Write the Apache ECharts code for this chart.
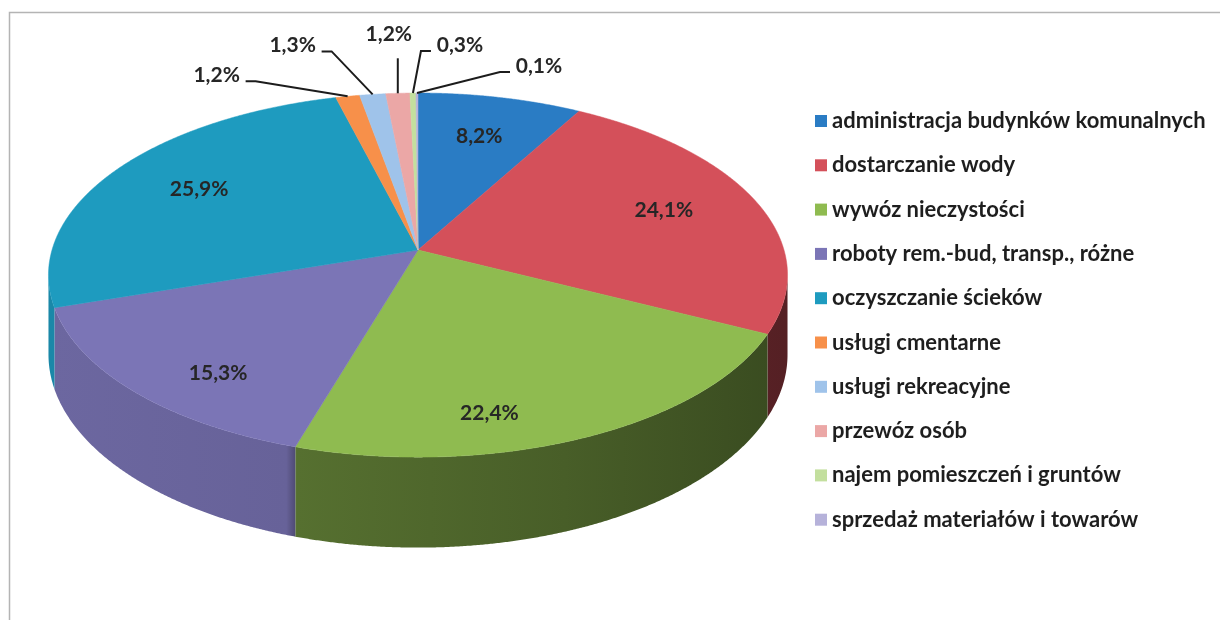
<!DOCTYPE html>
<html><head><meta charset="utf-8">
<script src="https://cdn.jsdelivr.net/npm/echarts@6/dist/echarts.min.js"></script>
<style>html,body{margin:0;padding:0;background:#fff}#c{width:1220px;height:620px}</style>
</head><body><div id="c"></div>
<script>
const categories = ['administracja budynków komunalnych','dostarczanie wody','wywóz nieczystości','roboty rem.-bud, transp., różne','oczyszczanie ścieków','usługi cmentarne','usługi rekreacyjne','przewóz osób','najem pomieszczeń i gruntów','sprzedaż materiałów i towarów'];
const values = [8.2, 24.1, 22.4, 15.3, 25.9, 1.2, 1.3, 1.2, 0.3, 0.1];
const palette = ['#2a7cc4','#d4505a','#8fbb50','#7b75b6','#1e9bbf','#f7904a','#9fc3ea','#eba7a6','#c3df9e','#b6b2da'];
// text-centre offsets of the outside labels, relative to the slice's rim anchor
const outsideLabelOffsets = {5:[-131,-21], 6:[-80,-49], 7:[-9,-59], 8:[47,-48], 9:[122,-27]};

const G = {cx:418, cy:250, R:366, k:0.488, D:7.26, h:78};
const total = values.reduce((a,b)=>a+b,0);
const starts = [], ends = [];
(function(){ let acc=0; values.forEach(v=>{ starts.push(acc/total*2*Math.PI); acc+=v; ends.push(acc/total*2*Math.PI); }); })();
function proj(theta, rf, dy){
  const x = G.R*rf*Math.sin(theta), z = G.R*rf*Math.cos(theta);
  const s = G.D/(G.D + z/G.R);
  return [G.cx + x*s, G.cy - z*G.k*s + (dy||0)*s];
}
// silhouette angles
let thR=Math.PI/2, thL=3*Math.PI/2;
(function(){ let mx=-1e9, mn=1e9; for(let t=0;t<2*Math.PI;t+=0.001){ const p=proj(t,1,0); if(p[0]>mx){mx=p[0];thR=t;} if(p[0]<mn){mn=p[0];thL=t;} } })();
function shade(hex,f){ const n=parseInt(hex.slice(1),16); const r=Math.round(((n>>16)&255)*f), g=Math.round(((n>>8)&255)*f), b=Math.round((n&255)*f); return 'rgb('+r+','+g+','+b+')'; }
function fmt(v){ return v.toFixed(1).replace('.',',')+'%'; }

function renderWall(params, api){
  const i = params.dataIndex;
  const a = Math.max(starts[i], thR), b = Math.min(ends[i], thL);
  if (b <= a) return {type:'group', children:[]};
  const n = Math.max(2, Math.ceil((b-a)/0.004));
  const pts = [];
  for (let j=0;j<=n;j++) pts.push(proj(a+(b-a)*j/n,1,0));
  for (let j=n;j>=0;j--) pts.push(proj(a+(b-a)*j/n,1,G.h));
  const c = palette[i];
  return {type:'polygon', shape:{points:pts}, style:{fill:{type:'linear', global:true, x:G.cx-G.R, y:0, x2:G.cx+G.R, y2:0,
    colorStops:[{offset:0,color:shade(c,0.88)},{offset:0.32,color:shade(c,0.84)},{offset:0.335,color:shade(c,0.6)},{offset:0.7,color:shade(c,0.5)},{offset:1,color:shade(c,0.4)}]}, stroke:null}};
}
function renderTop(params, api){
  const i = params.dataIndex;
  const a = starts[i], b = ends[i];
  const n = Math.max(2, Math.ceil((b-a)/0.004));
  const pts = [[G.cx, G.cy]];
  for (let j=0;j<=n;j++) pts.push(proj(a+(b-a)*j/n,1,0));
  return {type:'polygon', shape:{points:pts}, style:{fill:palette[i], stroke:palette[i], lineWidth:0.5}};
}
function renderLabel(params, api){
  const i = params.dataIndex;
  const v = api.value(0);
  const a = starts[i], b = ends[i];
  const font = 'bold 21px Lato';
  if (outsideLabelOffsets[i]) {
    const anc = proj((a+b)/2,1,0);
    const off = outsideLabelOffsets[i];
    const tc = [anc[0]+off[0], anc[1]+off[1]];
    let pts;
    if (Math.abs(off[0]) < 20) {
      pts = [[anc[0], anc[1]], [anc[0], tc[1]+24]];
    } else {
      const sgn = off[0] < 0 ? 1 : -1;
      const ex = tc[0] + sgn*29;
      pts = [[anc[0], anc[1]], [ex + sgn*10, tc[1]+6], [ex, tc[1]+6]];
    }
    return {type:'group', children:[
      {type:'polyline', shape:{points:pts}, style:{stroke:'#1c1c1c', lineWidth:2, fill:null}},
      {type:'text', style:{text:fmt(v), x:tc[0], y:tc[1], align:'center', verticalAlign:'middle', font:font, fill:'#262626'}}
    ]};
  }
  // screen-space bisector position
  const p1 = proj(a,1,0), p2 = proj(b,1,0);
  let g1 = Math.atan2(p1[1]-G.cy, p1[0]-G.cx), g2 = Math.atan2(p2[1]-G.cy, p2[0]-G.cx);
  while (g2 <= g1) g2 += 2*Math.PI;
  const gm = (g1+g2)/2;
  let best = null, bd = 1e9;
  for (let t=a; t<=b; t+=0.002) {
    const p = proj(t,1,0);
    let g = Math.atan2(p[1]-G.cy, p[0]-G.cx);
    while (g < g1 - 1e-6) g += 2*Math.PI;
    const d = Math.abs(g-gm);
    if (d < bd) { bd = d; best = p; }
  }
  const sx = G.cx + 0.82*(best[0]-G.cx), sy = G.cy + 0.82*(best[1]-G.cy);
  // 3D mid-angle position
  const mid = (a+b)/2;
  const q = proj(mid, 0.72, 0);
  const w = Math.pow((1-Math.cos(mid))/2, 2);
  const tx = q[0] + (sx-q[0])*w, ty = q[1] + (sy-q[1])*w;
  return {type:'text', style:{text:fmt(v), x:tx, y:ty, align:'center', verticalAlign:'middle', font:font, fill:'#262626'}};
}

const chart = echarts.init(document.getElementById('c'), null, {renderer:'canvas'});
const seriesData = values.map((v,i)=>({name:categories[i], value:[v]}));
chart.setOption({
  animation:false,
  backgroundColor:'#ffffff',
  color: palette,
  graphic:[{type:'rect', shape:{x:9.5, y:12.5, width:1400, height:800}, style:{fill:null, stroke:'#b4b4b4', lineWidth:1.5}, z:-10}],
  legend:{
    orient:'vertical', left:815, top:110, padding:0, itemWidth:12, itemHeight:12, itemGap:22.3, icon:'rect',
    data: categories,
    textStyle:{fontFamily:'Lato', fontSize:22, fontWeight:'bold', color:'#1e1e1e', lineHeight:22}
  },
  series:[
    {type:'pie', name:'legend', radius:[0,0], center:[-200,-200], silent:true, label:{show:false}, labelLine:{show:false},
      data: values.map((v,i)=>({name:categories[i], value:v}))},
    {type:'custom', name:'walls', coordinateSystem:'none', renderItem:renderWall, data:seriesData, z:1, silent:true},
    {type:'custom', name:'tops', coordinateSystem:'none', renderItem:renderTop, data:seriesData, z:2, silent:true},
    {type:'custom', name:'labels', coordinateSystem:'none', renderItem:renderLabel, data:seriesData, z:3, silent:true}
  ]
});
</script></body></html>
